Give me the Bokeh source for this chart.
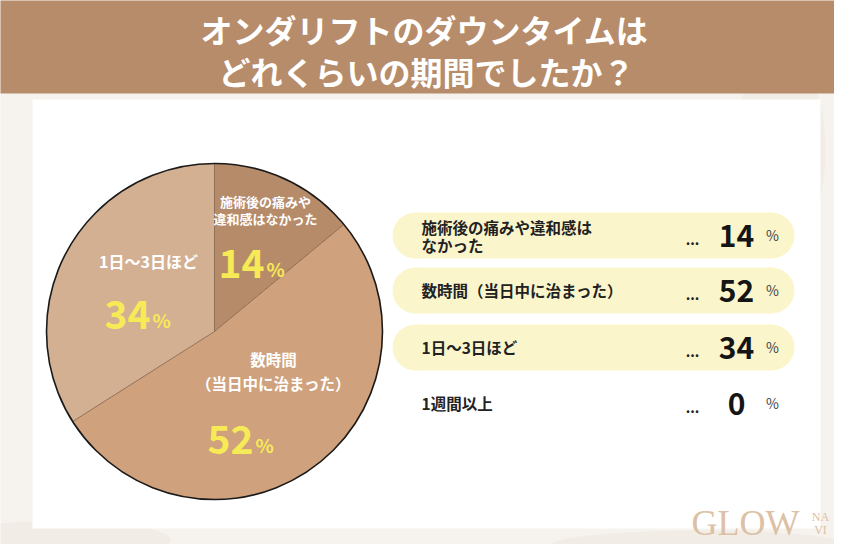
import math
from bokeh.plotting import figure
from bokeh.models import Range1d
from bokeh.core.properties import value
from bokeh.embed import file_html
from bokeh.resources import INLINE

# ---- data ----
title_lines = ["オンダリフトのダウンタイムは", "どれくらいの期間でしたか？"]
categories = ["施術後の痛みや違和感はなかった", "数時間（当日中に治まった）", "1日〜3日ほど", "1週間以上"]
values = [14, 52, 34, 0]
pie_label_lines = [["施術後の痛みや", "違和感はなかった"], ["数時間", "（当日中に治まった）"], ["1日〜3日ほど"], []]
legend_label_lines = [["施術後の痛みや違和感は", "なかった"], ["数時間（当日中に治まった）"], ["1日〜3日ほど"], ["1週間以上"]]
slice_colors = ["#b68b69", "#cfa17d", "#d4b093", "#d4b093"]

# ---- layout helpers ----
W, H = 834, 544
def Y(y):
    return H - y

JP = value("Noto Sans CJK JP")
NUM = value("Noto Sans CJK JP")
BG = "#f6f2ed"

p = figure(width=W, height=H, x_range=Range1d(0, W), y_range=Range1d(0, H),
           output_backend="svg", toolbar_location=None, min_border=0)
p.axis.visible = False
p.grid.visible = False
p.outline_line_color = None
p.background_fill_color = BG
p.border_fill_color = BG

# soft texture
p.ellipse(x=[60, 160, 780, 700], y=[Y(540), Y(300), Y(150), Y(545)], width=[220, 60, 90, 300],
          height=[40, 300, 200, 30], fill_color="#ece5dc", fill_alpha=0.45, line_color=None)

# header band
p.quad(left=[-10], right=[W + 10], top=[Y(-10)], bottom=[Y(93)], fill_color="#b78c6a", line_color=None)
p.text(x=[424, 426], y=[Y(28), Y(70)], text=title_lines, text_font=JP, text_font_size=value("32px"),
       text_font_style="bold", text_color="white", text_align="center", text_baseline="middle")

# white panel
p.quad(left=[32], right=[820], top=[Y(99)], bottom=[Y(528)], fill_color="white", line_color=None)

# ---- pie ----
cx, cy, r = 214, Y(331), 168
total = sum(values)
cum = 0.0
starts, ends = [], []
for v in values:
    starts.append(math.pi / 2 - 2 * math.pi * cum / total)
    cum += v
    ends.append(math.pi / 2 - 2 * math.pi * cum / total)

shown = [i for i, v in enumerate(values) if v > 0]
p.wedge(x=cx, y=cy, radius=r, start_angle=[starts[i] for i in shown], end_angle=[ends[i] for i in shown],
        direction="clock", fill_color=[slice_colors[i] for i in shown], line_color=None)
for i in shown:
    a = starts[i]
    p.line([cx, cx + r * math.cos(a)], [cy, cy + r * math.sin(a)], line_color="#7d5c42", line_width=0.8)
p.circle(x=[cx], y=[cy], radius=r, fill_color=None, line_color="#1a1a1a", line_width=1.6)

# pie labels
pie_text_pos = {0: [(265, 201), (265, 218)], 1: [(273, 358), (273, 382)], 2: [(148, 260)]}
pie_text_size = {0: "13px", 1: "15.5px", 2: "16px"}
pie_pct_pos = {0: (264, 263), 1: (253, 439), 2: (150, 314)}
for i in shown:
    for (tx, ty), line in zip(pie_text_pos[i], pie_label_lines[i]):
        p.text(x=[tx], y=[Y(ty)], text=[line], text_font=JP, text_font_size=value(pie_text_size[i]),
               text_font_style="bold", text_color="white", text_align="center", text_baseline="middle")
    px, py = pie_pct_pos[i]
    p.text(x=[px], y=[Y(py)], text=[str(values[i])], text_font=NUM, text_font_size=value("39px"),
           text_font_style="bold", text_color="#f7ea57", text_align="right", text_baseline="middle")
    p.text(x=[px + 2], y=[Y(py + 5)], text=["%"], text_font=JP, text_font_size=value("19px"),
           text_font_style="bold", text_color="#f7ea57", text_align="left", text_baseline="middle")

# ---- legend list ----
row_y = [235, 290, 347, 403]
pill_left, pill_right, pill_h = 392, 794, 46
for k, (lines, v) in enumerate(zip(legend_label_lines, values)):
    yc = row_y[k]
    if v > 0:
        rr = pill_h / 2
        p.quad(left=[pill_left + rr], right=[pill_right - rr], top=[Y(yc - rr)], bottom=[Y(yc + rr)],
               fill_color="#fbf5cc", line_color=None)
        p.circle(x=[pill_left + rr, pill_right - rr], y=[Y(yc), Y(yc)], radius=rr,
                 fill_color="#fbf5cc", line_color=None)
    if len(lines) == 1:
        ys = [yc - 1]
    else:
        ys = [yc - 9, yc + 9]
    for ly, line in zip(ys, lines):
        p.text(x=[421], y=[Y(ly)], text=[line], text_font=JP, text_font_size=value("15.5px"),
               text_font_style="bold", text_color="#222222", text_align="left", text_baseline="middle")
    p.text(x=[692], y=[Y(yc + 4)], text=["..."], text_font=JP, text_font_size=value("14px"),
           text_font_style="bold", text_color="#222222", text_align="center", text_baseline="middle")
    p.text(x=[736], y=[Y(yc)], text=[str(v)], text_font=NUM, text_font_size=value("30px"),
           text_font_style="bold", text_color="#151515", text_align="center", text_baseline="middle")
    p.text(x=[772], y=[Y(yc - 1)], text=["%"], text_font=JP, text_font_size=value("14px"),
           text_color="#444444", text_align="center", text_baseline="middle")

# ---- logo ----
p.text(x=[691], y=[Y(522)], text=["GLOW"], text_font=value("Liberation Serif"), text_font_size=value("36px"),
       text_color="#dcc1a6", text_align="left", text_baseline="middle")
p.text(x=[820], y=[Y(516)], text=["NA"], text_font=value("Liberation Serif"), text_font_size=value("12px"),
       text_color="#dcc1a6", text_align="center", text_baseline="middle")
p.text(x=[820], y=[Y(529)], text=["VI"], text_font=value("Liberation Serif"), text_font_size=value("12px"),
       text_color="#dcc1a6", text_align="center", text_baseline="middle")

open("out.html", "w").write(file_html(p, INLINE))
